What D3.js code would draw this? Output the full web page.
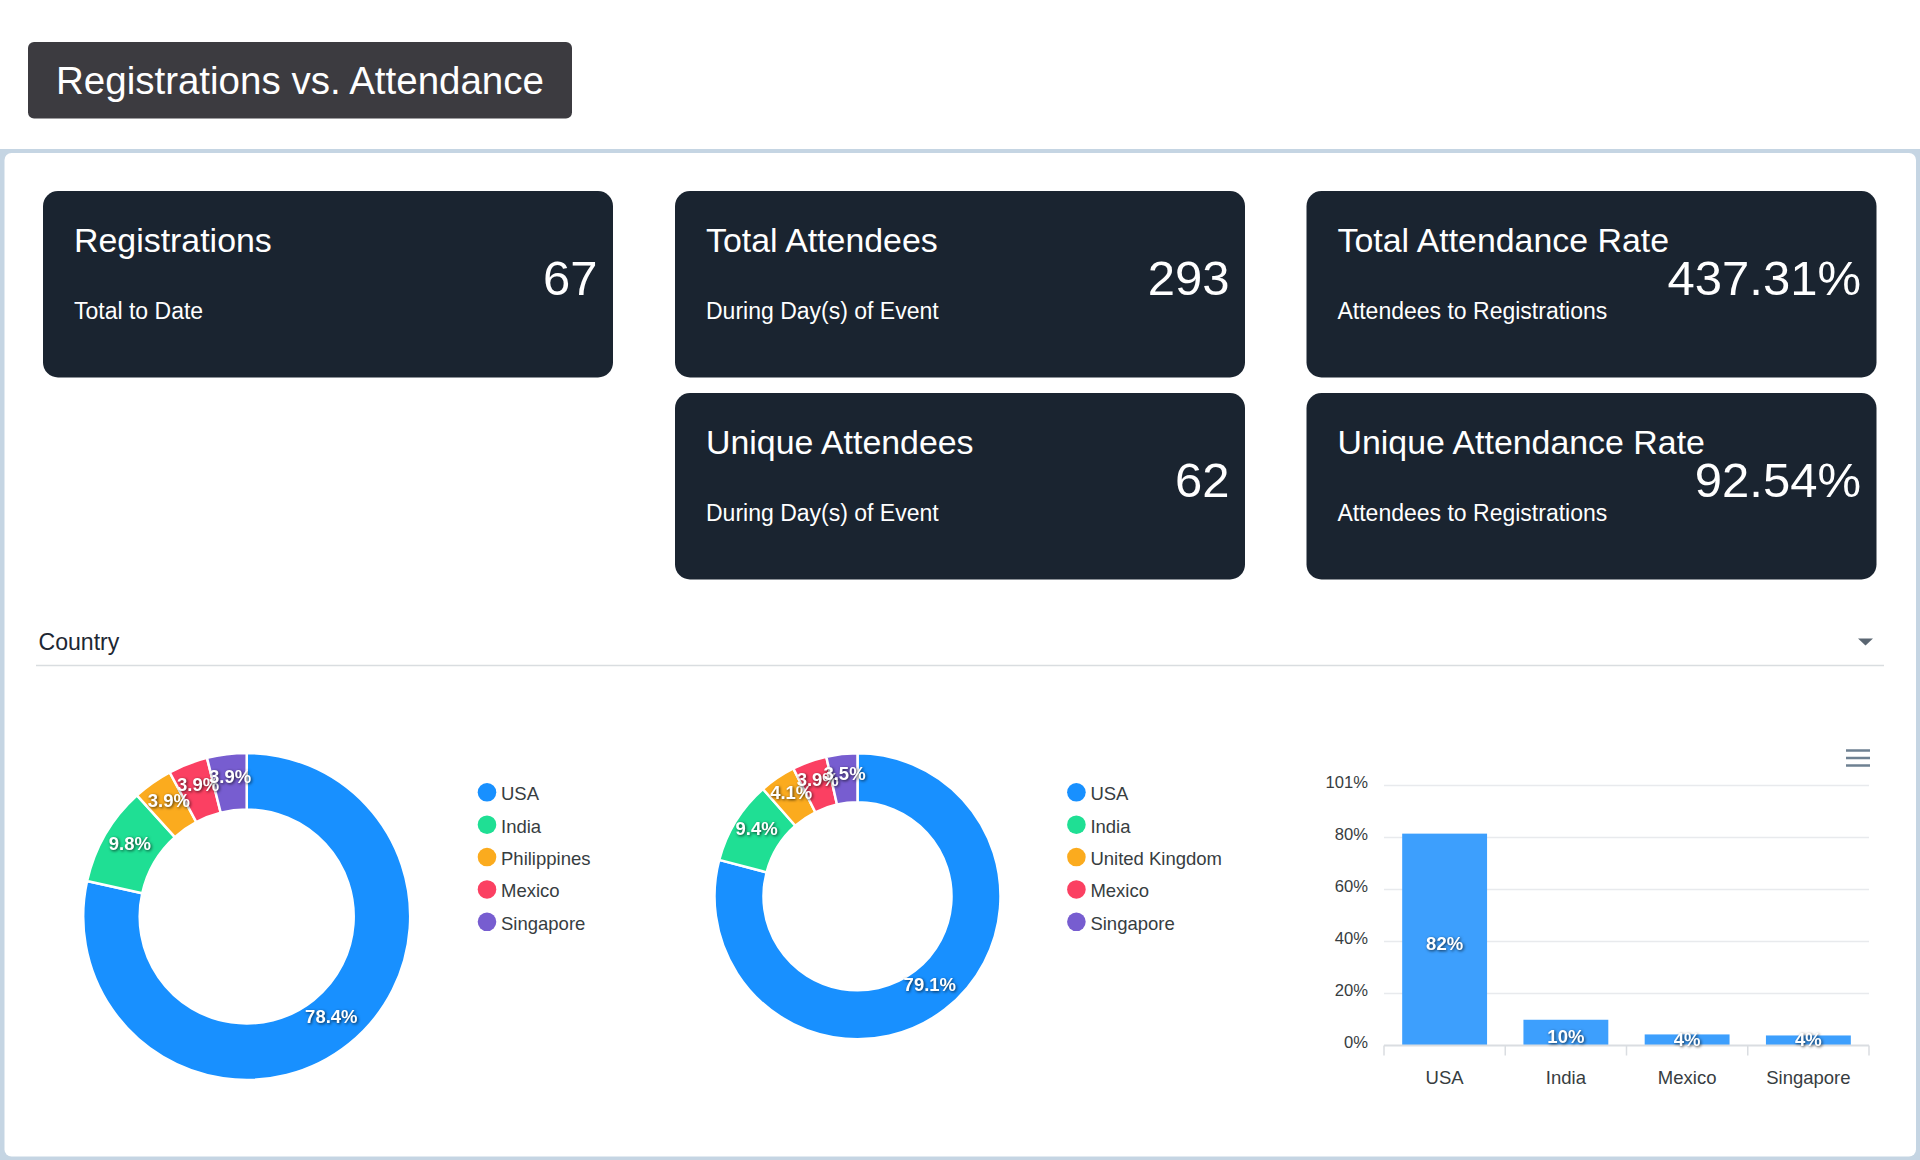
<!DOCTYPE html>
<html>
<head>
<meta charset="utf-8">
<title>Registrations vs. Attendance</title>
<script src="https://cdn.jsdelivr.net/npm/d3@7"></script>
<style>
  html, body { margin: 0; padding: 0; background: #fff; }
  svg { display: block; font-family: "Liberation Sans", Helvetica, Arial, sans-serif; }
  .axis .domain { display: none; }
  .axis text { fill: #373d3f; }
  .data-label { fill: #fff; font-weight: 600; font-size: 18.5px; text-anchor: middle;
    filter: drop-shadow(1px 1px 1.5px rgba(0,0,0,0.7)); }
</style>
</head>
<body>
<svg id="chart" width="1920" height="1160"></svg>
<script>
// Cards
const cardTitles = ['Registrations', 'Total Attendees', 'Total Attendance Rate', 'Unique Attendees', 'Unique Attendance Rate'];
const cardSubtitles = ['Total to Date', 'During Day(s) of Event', 'Attendees to Registrations', 'During Day(s) of Event', 'Attendees to Registrations'];
const cardValues = ['67', '293', '437.31%', '62', '92.54%'];
const cardColumns = [0, 1, 2, 1, 2];
const cardRows = [0, 0, 0, 1, 1];

// Donut charts
const registrationCountries = ['USA', 'India', 'Philippines', 'Mexico', 'Singapore'];
const registrationShares = [78.4, 9.8, 3.9, 3.9, 3.9];
const attendeeCountries = ['USA', 'India', 'United Kingdom', 'Mexico', 'Singapore'];
const attendeeShares = [79.1, 9.4, 4.1, 3.9, 3.5];
const sliceColors = ['#1890ff', '#1fdf94', '#fbab1e', '#fb4062', '#775dd0'];

// Bar chart
const barCountries = ['USA', 'India', 'Mexico', 'Singapore'];
const barShares = [82.3, 10, 4.3, 3.9];
const barTicks = [0, 20.2, 40.4, 60.6, 80.8, 101];
const barTickLabels = ['0%', '20%', '40%', '60%', '80%', '101%'];

let svg = d3.select('#chart');

// Page frame
svg.append('rect').attr('x', 0).attr('y', 149).attr('width', 1920).attr('height', 1011).attr('fill', '#c5d5e3');
svg.append('rect').attr('x', 4.5).attr('y', 153).attr('width', 1911.5).attr('height', 1003.5).attr('rx', 7).attr('fill', '#fff');

// Title
svg.append('rect').attr('x', 28).attr('y', 42).attr('width', 544).attr('height', 76.5).attr('rx', 6).attr('fill', '#3c3b40');
svg.append('text').attr('x', 56).attr('y', 94).attr('font-size', '38.5px').attr('fill', '#fff').text('Registrations vs. Attendance');

// Metric cards
let cardX = d3.scaleOrdinal().domain([0, 1, 2]).range([43, 675, 1306.5]);
let cardY = d3.scaleOrdinal().domain([0, 1]).range([191, 393]);
let cardWidth = 570, cardHeight = 186.5;

cardTitles.forEach(function(title, i) {
    let card = svg.append('g')
        .attr('transform', 'translate(' + cardX(cardColumns[i]) + ',' + cardY(cardRows[i]) + ')');
    card.append('rect')
        .attr('width', cardWidth).attr('height', cardHeight).attr('rx', 15)
        .attr('fill', '#1a2430');
    card.append('text').attr('x', 31).attr('y', 61)
        .attr('font-size', '33.9px').attr('fill', '#fff').text(title);
    card.append('text').attr('x', 31).attr('y', 127.7)
        .attr('font-size', '23px').attr('fill', '#fff').text(cardSubtitles[i]);
    card.append('text').attr('x', cardWidth - 15.5).attr('y', 103.5)
        .attr('font-size', '49px').attr('fill', '#fff').attr('text-anchor', 'end').text(cardValues[i]);
});

// Country section header
svg.append('text').attr('x', 38.5).attr('y', 650).attr('font-size', '23.1px').attr('fill', '#1d2733').text('Country');
svg.append('line').attr('x1', 36).attr('x2', 1884).attr('y1', 665.5).attr('y2', 665.5)
    .attr('stroke', '#d9dde0').attr('stroke-width', 1.5);
svg.append('path').attr('d', d3.line()([[1858, 638.5], [1873, 638.5], [1865.5, 645.5]]) + 'Z').attr('fill', '#5a6672');

// Donuts with their legends
function drawDonut(countries, shares, center, outer, inner, legendX) {
    let pie = d3.pie().sort(null).value(function(d) { return d; });
    let arc = d3.arc().innerRadius(inner).outerRadius(outer);
    let g = svg.append('g').attr('transform', 'translate(' + center[0] + ',' + center[1] + ')');

    let slices = pie(shares);
    g.selectAll('path').data(slices).enter().append('path')
        .attr('d', arc)
        .attr('fill', function(d, i) { return sliceColors[i]; })
        .attr('stroke', '#fff')
        .attr('stroke-width', 2.5);

    g.selectAll('text').data(slices).enter().append('text')
        .attr('class', 'data-label')
        .attr('x', function(d) { return arc.centroid(d)[0]; })
        .attr('y', function(d) { return arc.centroid(d)[1] + 1; })
        .text(function(d) { return d.data.toFixed(1) + '%'; });

    let legendY = d3.scalePoint().domain(countries).range([792.3, 921.8]);
    let legend = svg.append('g');
    legend.selectAll('circle').data(countries).enter().append('circle')
        .attr('cx', legendX)
        .attr('cy', function(d) { return legendY(d); })
        .attr('r', 9.3)
        .attr('fill', function(d, i) { return sliceColors[i]; });
    legend.selectAll('text').data(countries).enter().append('text')
        .attr('x', legendX + 14)
        .attr('y', function(d) { return legendY(d) + 8; })
        .attr('font-size', '18.5px')
        .attr('fill', '#373d3f')
        .text(function(d) { return d; });
}

drawDonut(registrationCountries, registrationShares, [246.7, 916.5], 163.5, 107, 487);
drawDonut(attendeeCountries, attendeeShares, [857.5, 896.3], 143, 94, 1076.4);

// Bar chart
let x = d3.scaleBand().domain(barCountries).range([1384, 1869]).paddingInner(0.3).paddingOuter(0.15);
let y = d3.scaleLinear().domain([0, 101]).range([1045.5, 785.5]);

svg.append('g').selectAll('line').data(barTicks.slice(1)).enter().append('line')
    .attr('x1', 1384).attr('x2', 1869)
    .attr('y1', function(d) { return y(d); })
    .attr('y2', function(d) { return y(d); })
    .attr('stroke', '#e8eaed').attr('stroke-width', 1.5);

svg.append('g').attr('class', 'axis')
    .attr('transform', 'translate(1384,0)')
    .call(d3.axisLeft(y).tickValues(barTicks).tickSize(0).tickPadding(16)
        .tickFormat(function(d, i) { return barTickLabels[i]; }))
    .selectAll('text').attr('font-size', '16.6px').attr('font-family', 'Liberation Sans').attr('dy', '0.1em').attr('dx', '0');

svg.append('g').selectAll('rect').data(barShares).enter().append('rect')
    .attr('x', function(d, i) { return x(barCountries[i]); })
    .attr('y', function(d) { return y(d); })
    .attr('width', x.bandwidth())
    .attr('height', function(d) { return y(0) - y(d); })
    .attr('fill', '#3d9ffd');

// Axis baseline and the ticks between categories
svg.append('line').attr('x1', 1384).attr('x2', 1869).attr('y1', y(0)).attr('y2', y(0))
    .attr('stroke', '#dadde1').attr('stroke-width', 2);
let edges = barCountries.map(function(d) { return x(d) - x.step() * 0.15; }).concat([1869]);
svg.append('g').selectAll('line').data(edges).enter().append('line')
    .attr('x1', function(d) { return d; }).attr('x2', function(d) { return d; })
    .attr('y1', y(0)).attr('y2', y(0) + 10)
    .attr('stroke', '#dadde1').attr('stroke-width', 1.5);

svg.append('g').attr('class', 'axis')
    .attr('transform', 'translate(0,' + y(0) + ')')
    .call(d3.axisBottom(x).tickSize(0).tickPadding(25))
    .selectAll('text').attr('font-size', '18.5px').attr('font-family', 'Liberation Sans');

svg.append('g').selectAll('text').data(barShares).enter().append('text')
    .attr('class', 'data-label')
    .attr('x', function(d, i) { return x(barCountries[i]) + x.bandwidth() / 2; })
    .attr('y', function(d) { return Math.min((y(d) + y(0)) / 2 + 10.5, y(0) + 0.5); })
    .text(function(d) { return d3.format('.0f')(d) + '%'; });

// Menu icon
svg.append('g').selectAll('line').data([750.5, 758, 765.5]).enter().append('line')
    .attr('x1', 1846).attr('x2', 1870)
    .attr('y1', function(d) { return d; }).attr('y2', function(d) { return d; })
    .attr('stroke', '#6e8192').attr('stroke-width', 2.5);
</script>
</body>
</html>
